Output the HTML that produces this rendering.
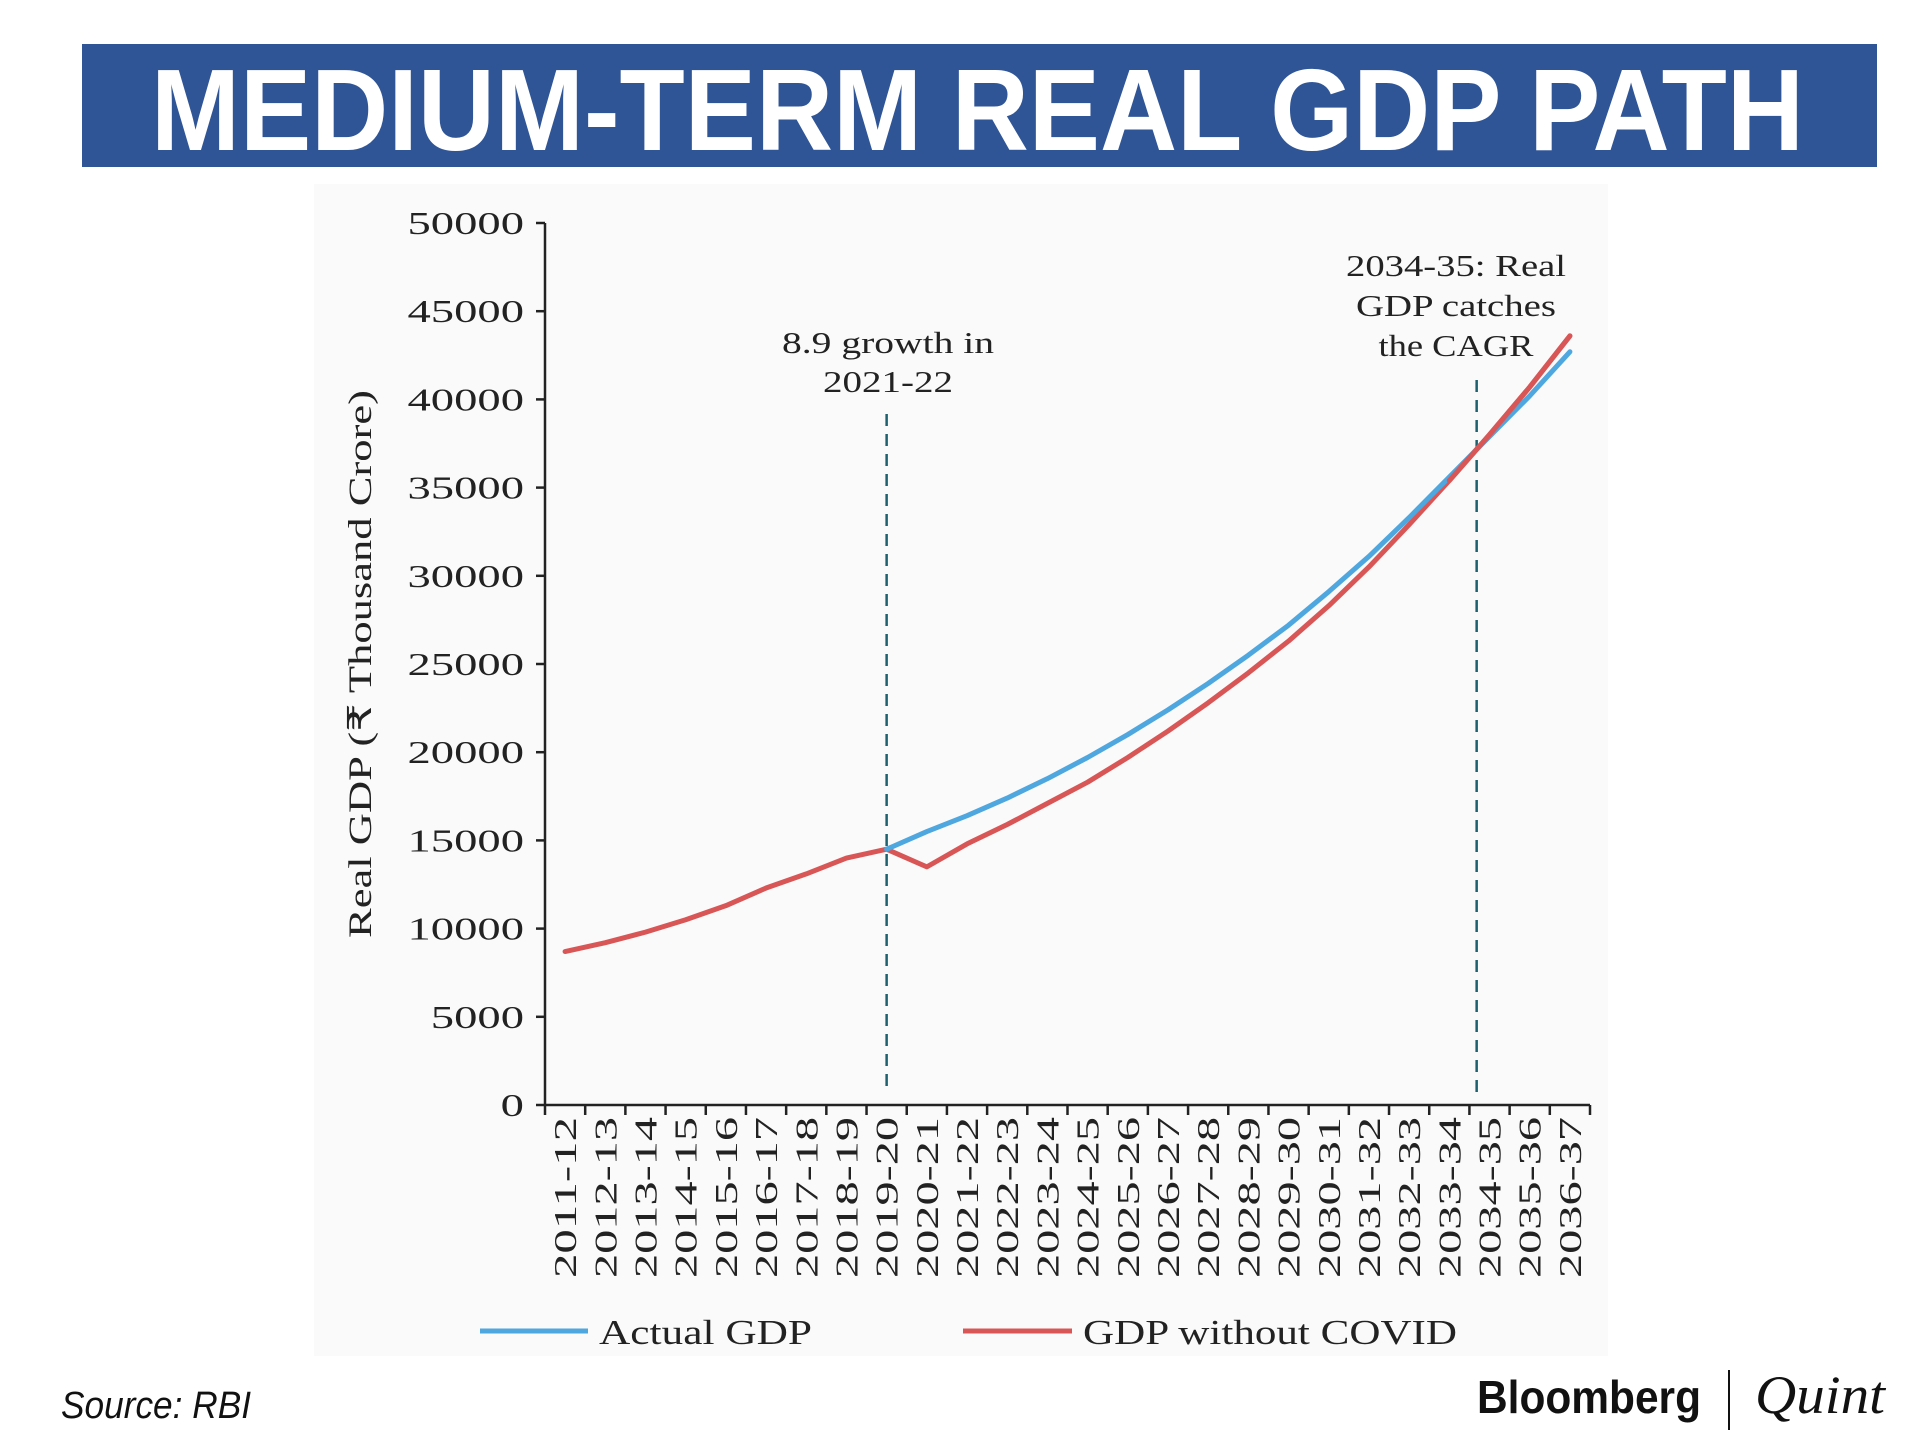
<!DOCTYPE html>
<html><head><meta charset="utf-8"><style>
html,body{margin:0;padding:0;background:#fff;}
svg{display:block;}
</style></head><body>
<svg id="chart" width="1920" height="1435" viewBox="0 0 1920 1435" xmlns="http://www.w3.org/2000/svg">
<rect x="82" y="44" width="1795" height="123" fill="#2f5597"/>
<text x="151" y="150" font-family="Liberation Sans, sans-serif" font-weight="bold" font-size="116" fill="#fff" textLength="1653" lengthAdjust="spacingAndGlyphs">MEDIUM-TERM REAL GDP PATH</text>
<rect x="314" y="184" width="1294" height="1172" fill="#fafafa"/>
<g id="axes"></g>
<g id="marks"></g>
<text transform="translate(371,664) rotate(-90)" text-anchor="middle" font-family="Liberation Serif, serif" font-size="33" fill="#222" textLength="548" lengthAdjust="spacingAndGlyphs">Real GDP (₹ Thousand Crore)</text>
<g font-family="Liberation Serif, serif" font-size="31" fill="#222" text-anchor="middle">
<text x="888" y="353" textLength="212" lengthAdjust="spacingAndGlyphs">8.9 growth in</text>
<text x="888" y="392" textLength="130" lengthAdjust="spacingAndGlyphs">2021-22</text>
</g>
<g font-family="Liberation Serif, serif" font-size="31" fill="#222" text-anchor="middle">
<text x="1456" y="276" textLength="220" lengthAdjust="spacingAndGlyphs">2034-35: Real</text>
<text x="1456" y="316" textLength="200" lengthAdjust="spacingAndGlyphs">GDP catches</text>
<text x="1456" y="356" textLength="155" lengthAdjust="spacingAndGlyphs">the CAGR</text>
</g>
<g>
<line x1="480" y1="1331" x2="588" y2="1331" stroke="#4fa7df" stroke-width="5"/>
<text x="599" y="1344" font-family="Liberation Serif, serif" font-size="35" fill="#222" textLength="213" lengthAdjust="spacingAndGlyphs">Actual GDP</text>
<line x1="963" y1="1331" x2="1072" y2="1331" stroke="#d95656" stroke-width="5"/>
<text x="1083" y="1344" font-family="Liberation Serif, serif" font-size="35" fill="#222" textLength="374" lengthAdjust="spacingAndGlyphs">GDP without COVID</text>
</g>
<text x="61" y="1418" font-family="Liberation Sans, sans-serif" font-style="italic" font-size="38" fill="#111" textLength="190" lengthAdjust="spacingAndGlyphs">Source: RBI</text>
<text x="1477" y="1413" font-family="Liberation Sans, sans-serif" font-weight="bold" font-size="46" fill="#111" textLength="224" lengthAdjust="spacingAndGlyphs">Bloomberg</text>
<line x1="1729" y1="1370" x2="1729" y2="1430" stroke="#111" stroke-width="2"/>
<text x="1755" y="1413" font-family="Liberation Serif, serif" font-style="italic" font-size="54" fill="#111" textLength="130" lengthAdjust="spacingAndGlyphs">Quint</text>
</svg>
<script>
const categories = ["2011-12","2012-13","2013-14","2014-15","2015-16","2016-17","2017-18","2018-19","2019-20","2020-21","2021-22","2022-23","2023-24","2024-25","2025-26","2026-27","2027-28","2028-29","2029-30","2030-31","2031-32","2032-33","2033-34","2034-35","2035-36","2036-37"];
const actualStart = 8;
const actualGDP = [14500,15500,16400,17400,18500,19700,21000,22400,23900,25500,27200,29100,31100,33300,35600,37900,40200,42700];
const gdpWithoutCovid = [8700,9200,9800,10500,11300,12300,13100,14000,14500,13500,14800,15900,17100,18300,19700,21200,22800,24500,26300,28300,30500,32900,35400,38000,40700,43600];
const yTicks = [0,5000,10000,15000,20000,25000,30000,35000,40000,45000,50000];
const markerIndices = [8, 22.68];

const NS = "http://www.w3.org/2000/svg";
const X0 = 545, X1 = 1590, Y0 = 1105, Y1 = 223;
const bw = (X1 - X0) / categories.length;
const xs = i => X0 + bw * (i + 0.5);
const ys = v => Y0 - (v / 50000) * (Y0 - Y1);
function mk(tag, attrs, parent) {
  const e = document.createElementNS(NS, tag);
  for (const k in attrs) e.setAttribute(k, attrs[k]);
  parent.appendChild(e);
  return e;
}
const axes = document.getElementById('axes');
const marks = document.getElementById('marks');

const ya = mk('line', {x1: X0, y1: Y1, x2: X0, y2: Y0, stroke: '#222', 'stroke-width': 2.5}, axes);


const xa = mk('line', {x1: X0, y1: Y0, x2: X1, y2: Y0, stroke: '#222', 'stroke-width': 2.5}, axes);



yTicks.forEach(v => {
  const t = mk('line', {x1: X0 - 9, y1: ys(v), x2: X0, y2: ys(v), stroke: '#222', 'stroke-width': 2.5}, axes);
  
  
  const s = String(v);
  const lb = mk('text', {x: 524, y: ys(v) + 11, 'text-anchor': 'end', 'font-family': 'Liberation Serif, serif', 'font-size': 32, fill: '#222', textLength: s.length * 23.3, lengthAdjust: 'spacingAndGlyphs'}, axes);
  lb.textContent = s;
  
  
});

for (let i = 0; i <= categories.length; i++) {
  const x = X0 + bw * i;
  const t = mk('line', {x1: x, y1: Y0, x2: x, y2: Y0 + 10, stroke: '#222', 'stroke-width': 2.5}, axes);
  
  
}
categories.forEach((c, i) => {
  const lb = mk('text', {transform: 'translate(' + (xs(i) + 11) + ',1117) rotate(-90)', 'text-anchor': 'end', 'font-family': 'Liberation Serif, serif', 'font-size': 32, fill: '#222', textLength: 161, lengthAdjust: 'spacingAndGlyphs'}, axes);
  lb.textContent = c;
  
  
});

const dashTops = [414, 380];
markerIndices.forEach((m, k) => {
  const l = mk('line', {x1: xs(m), y1: dashTops[k], x2: xs(m), y2: 1094, stroke: '#1d6070', 'stroke-width': 2.5, 'stroke-dasharray': '12,8'}, marks);
  
  
});

const rp = gdpWithoutCovid.map((v, i) => xs(i) + ',' + ys(v)).join(' ');
const red = mk('polyline', {points: rp, fill: 'none', stroke: '#d95656', 'stroke-width': 5, 'stroke-linejoin': 'round', 'stroke-linecap': 'round'}, marks);


const bp = actualGDP.map((v, i) => xs(i + actualStart) + ',' + ys(v)).join(' ');
const blue = mk('polyline', {points: bp, fill: 'none', stroke: '#4fa7df', 'stroke-width': 5, 'stroke-linejoin': 'round', 'stroke-linecap': 'round'}, marks);


// redraw red tail on top near end (red overlaps blue at the end in reference)
const tail = gdpWithoutCovid.slice(22).map((v, i) => xs(i + 22) + ',' + ys(v)).join(' ');
const rt = mk('polyline', {points: tail, fill: 'none', stroke: '#d95656', 'stroke-width': 5, 'stroke-linecap': 'round'}, marks);


</script>
</body></html>
